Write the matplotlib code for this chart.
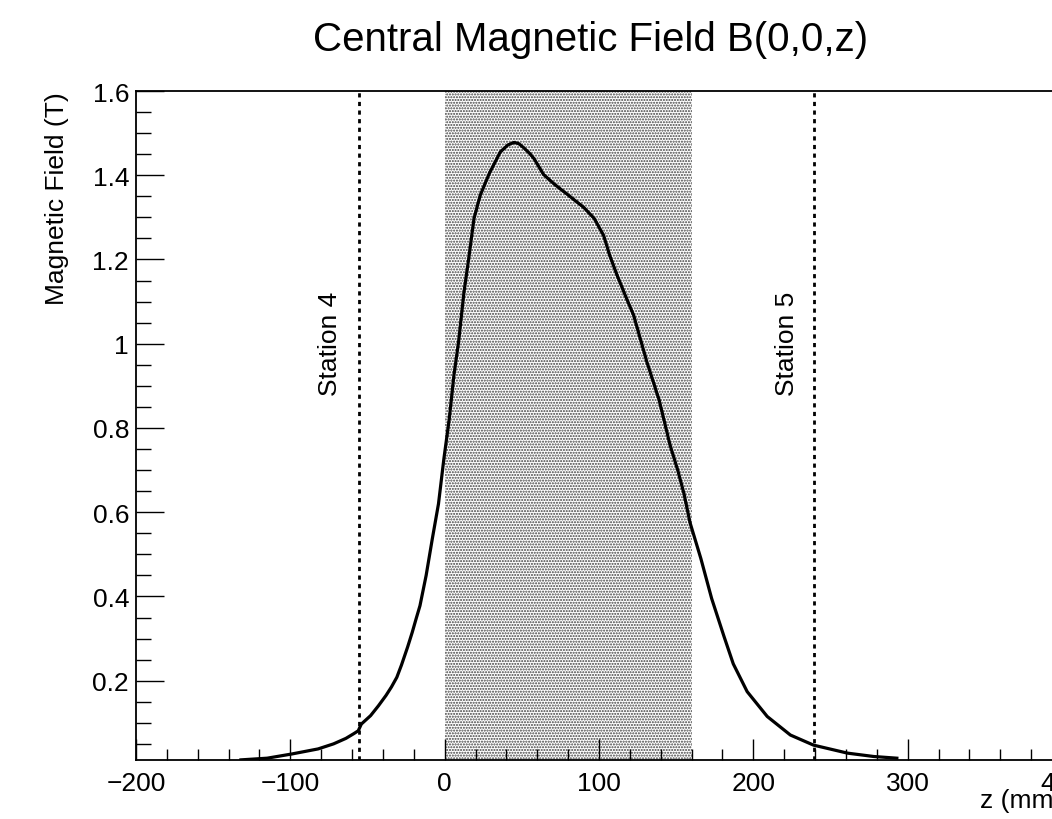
import matplotlib
matplotlib.use("Agg")
import matplotlib.pyplot as plt
from matplotlib.ticker import MultipleLocator, FormatStrFormatter

plt.rcParams['font.family'] = ['Liberation Sans', 'DejaVu Sans']
plt.rcParams['hatch.linewidth'] = 1.0

# Data
z_mm = [-132, -115, -99, -82, -72, -64, -59, -56, -54, -48, -43, -38, -34.5, -31,
        -28, -24, -21, -18.5, -16, -12, -8, -4, -0.5, 3, 6, 9, 12.5, 15.5,
        19, 23, 29, 36, 41, 45, 48, 51, 55, 58, 64, 71, 79, 90, 97, 103, 107, 112,
        117, 122.5, 131, 139, 146, 151, 155, 159, 166, 173, 181, 187, 196, 209,
        224, 239, 261, 278, 293]
b_field = [0.012, 0.016, 0.026, 0.038, 0.050, 0.063, 0.074, 0.081, 0.097, 0.117,
           0.140, 0.165, 0.185, 0.208, 0.237, 0.280, 0.315, 0.347, 0.378,
           0.450, 0.537, 0.620, 0.727, 0.822, 0.925, 1.004, 1.122, 1.200, 1.297,
           1.352, 1.405, 1.455, 1.472, 1.478, 1.475, 1.466, 1.452, 1.439, 1.402,
           1.379, 1.356, 1.324, 1.297, 1.257, 1.209, 1.160, 1.115, 1.067, 0.957,
           0.866, 0.760, 0.700, 0.645, 0.575, 0.490, 0.395, 0.305, 0.240, 0.174,
           0.115, 0.071, 0.047, 0.028, 0.020, 0.016]

magnet_region = [0, 160]
station_z = [-55.5, 239.5]
station_labels = ["Station 4", "Station 5"]
station_label_z = [-74.5, 221.5]

title = "Central Magnetic Field B(0,0,z)"
xlabel = "z (mm)"
ylabel = "Magnetic Field (T)"

fig = plt.figure(figsize=(10.52, 8.2), dpi=100)
ax = fig.add_axes([136/1052, 59.3/820, (1062-136)/1052, (760.7-92)/820])
ax.set_xlim(-200, 400)
ax.set_ylim(0.0124, 1.6)

ax.axvspan(magnet_region[0], magnet_region[1], facecolor='white',
           edgecolor='#404040', hatch='......', linewidth=0, zorder=1)

ax.plot(z_mm, b_field, color='black', lw=2.3, zorder=4,
        solid_joinstyle='round')

for zs in station_z:
    ax.axvline(zs, color='black', lw=2.0, linestyle=(0, (1.5, 1.6)), zorder=3)
for zt, lab in zip(station_label_z, station_labels):
    ax.text(zt, 1.003, lab, rotation=90, ha='center', va='center', fontsize=19)

ax.xaxis.set_major_locator(MultipleLocator(100))
ax.xaxis.set_minor_locator(MultipleLocator(20))
ax.yaxis.set_major_locator(MultipleLocator(0.2))
ax.yaxis.set_minor_locator(MultipleLocator(0.05))
ax.yaxis.set_major_formatter(FormatStrFormatter('%g'))

ax.tick_params(axis='both', which='both', direction='in', top=False, right=False,
               labelsize=19, width=1.0)
ax.tick_params(axis='x', which='major', length=15, pad=8)
ax.tick_params(axis='x', which='minor', length=8)
ax.tick_params(axis='y', which='major', length=20, pad=5)
ax.tick_params(axis='y', which='minor', length=11)

for s in ax.spines.values():
    s.set_linewidth(1.3)
    s.set_color('black')
    s.set_zorder(5)

fig.text(591/1052, 1 - 40/820, title, ha='center', va='center', fontsize=29)
fig.text(1062/1052, 1 - 801/820, xlabel, ha='right', va='center', fontsize=19)
fig.text(57/1052, 1 - 92/820, ylabel, rotation=90, ha='center', va='top', fontsize=19)

fig.savefig('out.png', dpi=100)
